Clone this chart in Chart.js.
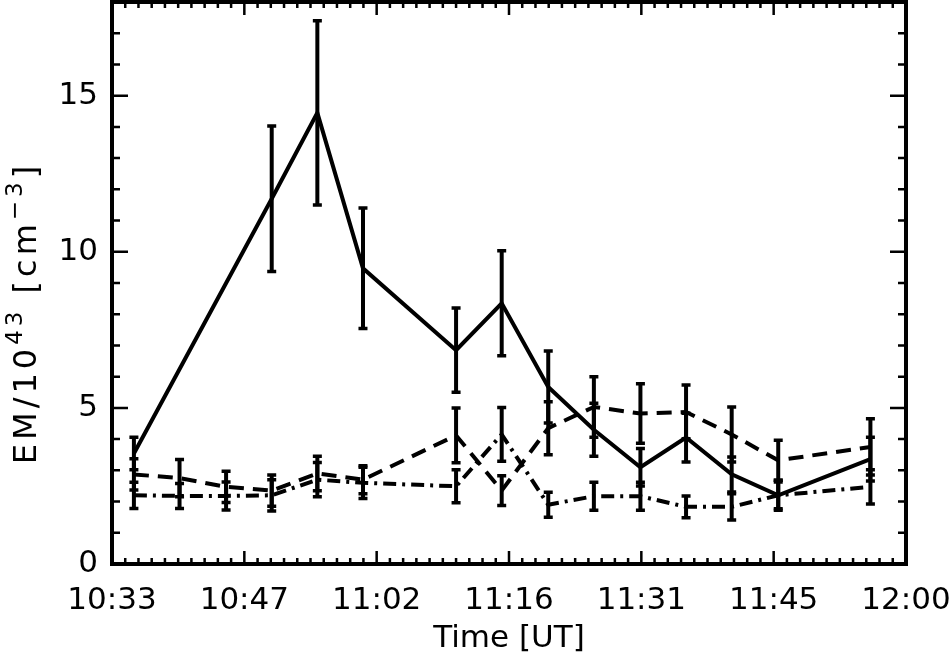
<!DOCTYPE html>
<html>
<head>
<meta charset="utf-8">
<script src="https://cdn.jsdelivr.net/npm/chart.js@4.4.0/dist/chart.umd.min.js"></script>
<style>
  html, body { margin: 0; padding: 0; background: #fff; }
</style>
</head>
<body>
<canvas id="emChart" width="951" height="663"></canvas>
<script>
// observation times, minutes after 00:00 UT
const times = [635.4, 640.4, 645.5, 650.5, 655.5, 660.5, 670.7, 675.7, 680.8, 685.8, 690.9, 695.9, 700.9, 706.0, 716.1];

// emission measure in units of 1e43 cm^-3 (null = no value)
const solidEM   = [3.54, null, null, 11.7, 14.45, 9.47, 6.85, 8.35, 5.67, 4.3, 3.1, 4.05, 2.87, 2.2, 3.36];
const solidErr  = [0.52, null, null, 2.33, 2.95, 1.93, 1.35, 1.68, 1.15, 0.85, 0.6, 0.78, 0.56, 0.43, 0.7];
const dashedEM  = [2.87, 2.75, 2.47, 2.35, 2.9, 2.7, 4.12, 2.35, 4.35, 5.03, 4.82, 4.87, 4.15, 3.32, 3.75];
const dashedErr = [0.5, 0.6, 0.5, 0.5, 0.55, 0.45, 0.88, 0.48, 0.85, 0.97, 0.95, 0.86, 0.88, 0.64, 0.9];
const dashDotEM  = [2.2, 2.18, 2.18, 2.2, 2.7, 2.6, 2.49, 4.15, 1.9, 2.17, 2.17, 1.83, 1.83, 2.2, 2.47];
const dashDotErr = [0.42, 0.4, 0.45, 0.5, 0.55, 0.5, 0.53, 0.86, 0.4, 0.45, 0.45, 0.35, 0.42, 0.48, 0.55];

// axis ticks
const xTickValues = [633, 647.5, 662, 676.5, 691, 705.5, 720];
const xTickLabels = ['10:33', '10:47', '11:02', '11:16', '11:31', '11:45', '12:00'];
const yTickValues = [0, 5, 10, 15];
const yTickLabels = ['0', '5', '10', '15'];

const FONT = 'DejaVu Sans';

function toPoints(values) {
  return times.map((t, i) => ({ x: t, y: values[i] }));
}

// vertical error bars with caps, drawn through the chart scales
const errorBars = {
  id: 'errorBars',
  afterDatasetsDraw(chart) {
    const ctx = chart.ctx;
    const xs = chart.scales.x, ys = chart.scales.y;
    ctx.save();
    ctx.strokeStyle = '#000';
    chart.data.datasets.forEach(ds => {
      ds.data.forEach((p, i) => {
        const e = ds.errors[i];
        if (p.y == null || e == null) return;
        const px = xs.getPixelForValue(p.x);
        const top = ys.getPixelForValue(p.y + e);
        const bot = ys.getPixelForValue(p.y - e);
        ctx.lineWidth = 4;
        ctx.beginPath();
        ctx.moveTo(px, top);
        ctx.lineTo(px, bot);
        ctx.stroke();
        ctx.lineWidth = 3.5;
        ctx.beginPath();
        ctx.moveTo(px - 4.5, top);
        ctx.lineTo(px + 4.5, top);
        ctx.moveTo(px - 4.5, bot);
        ctx.lineTo(px + 4.5, bot);
        ctx.stroke();
      });
    });
    ctx.restore();
  }
};

// box frame with inward ticks on all sides, plus the y title
const frame = {
  id: 'frame',
  afterDraw(chart) {
    const ctx = chart.ctx;
    const a = chart.chartArea;
    const xs = chart.scales.x, ys = chart.scales.y;
    ctx.save();
    ctx.strokeStyle = '#000';
    ctx.lineWidth = 2.5;
    ctx.beginPath();
    // x ticks: 10 minor divisions per major
    for (let k = 0; k <= 60; k++) {
      const v = xs.min + k * (xs.max - xs.min) / 60;
      const px = xs.getPixelForValue(v);
      const len = k % 10 === 0 ? 13 : 6;
      ctx.moveTo(px, a.bottom); ctx.lineTo(px, a.bottom - len);
      ctx.moveTo(px, a.top); ctx.lineTo(px, a.top + len);
    }
    // y ticks: every unit, major every 5
    for (let v = 0; v <= 18; v++) {
      const py = ys.getPixelForValue(v);
      const len = v % 5 === 0 ? 16 : 8;
      ctx.moveTo(a.left, py); ctx.lineTo(a.left + len, py);
      ctx.moveTo(a.right, py); ctx.lineTo(a.right - len, py);
    }
    ctx.stroke();
    ctx.lineWidth = 4;
    ctx.strokeRect(a.left, a.top, a.right - a.left, a.bottom - a.top);

    // y axis title with superscripts
    const size = 32;
    const supSize = Math.round(size * 0.72);
    const parts = [
      { t: 'EM/10', sup: false },
      { t: '43', sup: true },
      { t: ' [cm', sup: false },
      { t: '\u22123', sup: true },
      { t: ']', sup: false }
    ];
    ctx.fillStyle = '#000';
    ctx.letterSpacing = '4px';
    let total = 0;
    parts.forEach(p => {
      ctx.font = (p.sup ? supSize : size) + 'px "' + FONT + '"';
      p.w = ctx.measureText(p.t).width;
      total += p.w;
    });
    ctx.translate(24, 313);
    ctx.rotate(-Math.PI / 2);
    ctx.textBaseline = 'alphabetic';
    ctx.textAlign = 'left';
    let x = -total / 2;
    parts.forEach(p => {
      ctx.font = (p.sup ? supSize : size) + 'px "' + FONT + '"';
      ctx.fillText(p.t, x, p.sup ? size * 0.36 - size * 0.42 : size * 0.36);
      x += p.w;
    });
    ctx.restore();
  }
};

const lineStyle = { borderColor: '#000', borderWidth: 4, pointRadius: 0, fill: false, spanGaps: true, tension: 0 };

new Chart(document.getElementById('emChart').getContext('2d'), {
  type: 'line',
  data: {
    datasets: [
      Object.assign({ label: 'solid', data: toPoints(solidEM), errors: solidErr, borderDash: [] }, lineStyle),
      Object.assign({ label: 'dashed', data: toPoints(dashedEM), errors: dashedErr, borderDash: [15, 9] }, lineStyle),
      Object.assign({ label: 'dash-dot', data: toPoints(dashDotEM), errors: dashDotErr, borderDash: [13, 6, 3, 6] }, lineStyle)
    ]
  },
  options: {
    responsive: false,
    animation: false,
    layout: { padding: { top: 2, right: 45, left: 0, bottom: 0 } },
    plugins: { legend: { display: false }, tooltip: { enabled: false } },
    scales: {
      x: {
        type: 'linear',
        min: 633,
        max: 720,
        afterBuildTicks: s => { s.ticks = xTickValues.map(v => ({ value: v })); },
        afterFit: s => { s.height = 99; s.paddingLeft = 0; s.paddingRight = 0; },
        grid: { display: false, drawTicks: false },
        border: { display: false },
        ticks: {
          autoSkip: false,
          maxRotation: 0,
          padding: 18,
          color: '#000',
          font: { family: FONT, size: 31 },
          callback: (v, i) => xTickLabels[i]
        },
        title: {
          display: true,
          text: 'Time [UT]',
          color: '#000',
          font: { family: FONT, size: 31 },
          padding: { top: 0, bottom: 5 }
        }
      },
      y: {
        min: 0,
        max: 18,
        afterBuildTicks: s => { s.ticks = yTickValues.map(v => ({ value: v })); },
        afterFit: s => { s.width = 112; s.paddingTop = 0; s.paddingBottom = 0; },
        grid: { display: false, drawTicks: false },
        border: { display: false },
        ticks: {
          padding: 14,
          color: '#000',
          font: { family: FONT, size: 31 },
          callback: (v, i) => yTickLabels[i]
        }
      }
    }
  },
  plugins: [errorBars, frame]
});
</script>
</body>
</html>
